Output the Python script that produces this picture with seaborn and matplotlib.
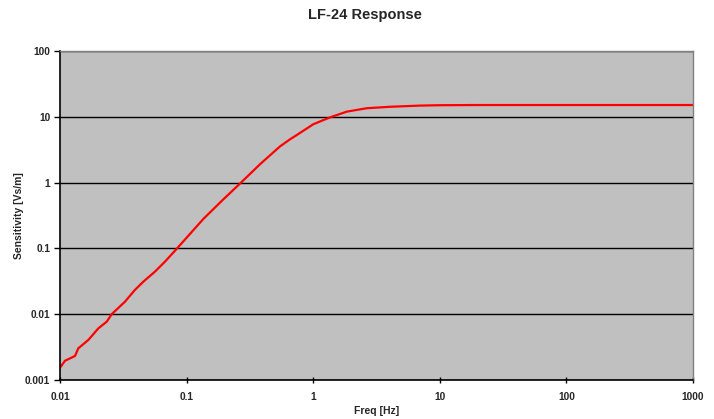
import numpy as np
import pandas as pd
import matplotlib
matplotlib.use("Agg")
import matplotlib.pyplot as plt
import matplotlib.ticker as mticker
import seaborn as sns

# values
freq = [0.01, 0.01095, 0.01314, 0.01395, 0.01674, 0.0201, 0.0234, 0.0256, 0.0326,
        0.039, 0.0455, 0.0562, 0.0674, 0.0809, 0.1355, 0.19, 0.269, 0.38, 0.43,
        0.547, 0.656, 0.741, 1.0, 1.2, 1.40, 1.84, 2.65, 4.05, 6.98, 10, 20, 50,
        100, 200, 500, 1000]
sens = [0.00154, 0.00196, 0.00232, 0.00303, 0.00406, 0.0061, 0.0077, 0.0100, 0.0155,
        0.0233, 0.0312, 0.0443, 0.0628, 0.092, 0.28, 0.53, 1.0, 1.9, 2.35,
        3.55, 4.55, 5.28, 7.69, 8.9, 10.0, 11.97, 13.5, 14.2, 14.8, 15.0, 15.1, 15.1,
        15.1, 15.1, 15.1, 15.1]
xticks = [0.01, 0.1, 1, 10, 100, 1000]
yticks = [0.001, 0.01, 0.1, 1, 10, 100]

df = pd.DataFrame({"freq": freq, "sens": sens})

sns.set_theme(style="white")
plt.rcParams["font.family"] = ["Liberation Sans", "DejaVu Sans"]

fig = plt.figure(figsize=(7.14, 4.19), dpi=100)
ax = fig.add_axes([60/714, 1-380/419, 633/714, 329/419])
ax.set_facecolor("#C0C0C0")

sns.lineplot(data=df, x="freq", y="sens", color="#FF0000", lw=1.6, ax=ax)
ax.set_xscale("log"); ax.set_yscale("log")
ax.set_xlim(0.01, 1000); ax.set_ylim(0.001, 100)

ax.set_xticks(xticks); ax.set_yticks(yticks)
ax.xaxis.set_minor_locator(mticker.NullLocator())
ax.yaxis.set_minor_locator(mticker.NullLocator())
fmt = mticker.FuncFormatter(lambda v, _: f"{v:g}")
ax.xaxis.set_major_formatter(fmt); ax.yaxis.set_major_formatter(fmt)
for t in ax.get_xticklabels() + ax.get_yticklabels():
    t.set_fontweight("bold"); t.set_fontsize(7.3)
ax.tick_params(axis="x", direction="inout", length=5, width=1, pad=6, color="black", bottom=True)
ax.tick_params(axis="y", direction="out", length=4, width=1, pad=3, color="black", left=True)

ax.yaxis.grid(True, color="black", lw=1)
ax.xaxis.grid(False)
for s in ["left", "bottom"]:
    ax.spines[s].set_color("black"); ax.spines[s].set_linewidth(1.2)
for s in ["top", "right"]:
    ax.spines[s].set_color("#808080"); ax.spines[s].set_linewidth(1)

ax.set_xlabel("Freq [Hz]", fontsize=7.5, fontweight="bold", labelpad=3)
ax.set_ylabel("Sensitivity [Vs/m]", fontsize=7.5, fontweight="bold", labelpad=1)
fig.text(365/714, 1-15/419, "LF-24 Response", ha="center", va="center",
         fontsize=10.5, fontweight="bold")

fig.savefig("out.png", dpi=100)
